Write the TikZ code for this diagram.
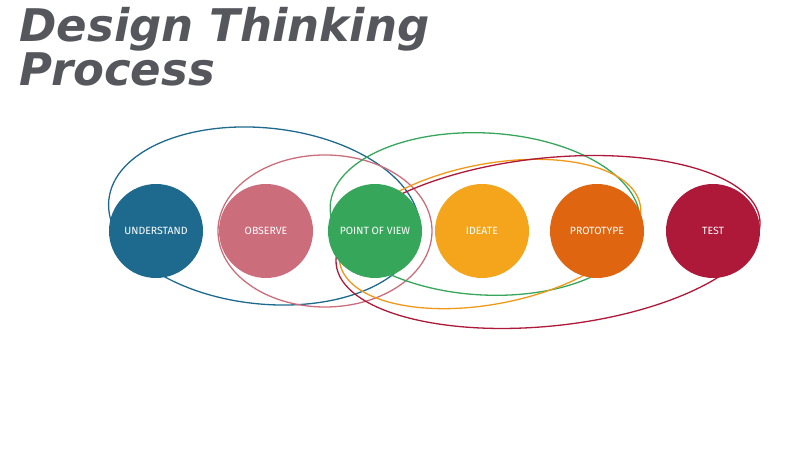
\documentclass[tikz,border=0pt]{standalone}
\usepackage{fontspec}
\setmainfont{Fira Sans}
\newfontfamily\titlefont{DejaVu Sans}
\definecolor{cblue}{HTML}{1D6A8E}
\definecolor{cpink}{HTML}{CC6D7B}
\definecolor{cgreen}{HTML}{36A65A}
\definecolor{cyel}{HTML}{F4A51C}
\definecolor{corange}{HTML}{DF6511}
\definecolor{cred}{HTML}{AE1839}
\definecolor{ctitle}{HTML}{55575C}
\begin{document}
\begin{tikzpicture}[x=1pt,y=1pt,
  stage/.style={circle,minimum size=94pt,inner sep=0pt,text=white,font=\fontsize{10.5}{11}\selectfont},
  loop/.style={line width=1.3pt}]
\useasboundingbox (0,0) rectangle (800,460);
\node[anchor=west,align=left,text=ctitle,font=\titlefont\fontsize{45}{44}\selectfont\bfseries\itshape] (title) at (16,413) {Design Thinking\\Process};
\draw[loop,cblue,rotate around={-6:(264,244)}] (264,244) ellipse [x radius=156,y radius=88];
\draw[loop,cpink] (325,229) ellipse [x radius=107,y radius=76];
\draw[loop,cgreen,rotate around={-3:(485,246)}] (485,246) ellipse [x radius=155,y radius=81];
\draw[loop,cyel!80!corange,rotate around={11:(490,226)}] (490,226) ellipse [x radius=153,y radius=70];
\draw[loop,cred,rotate around={6:(548,218)}] (548,218) ellipse [x radius=213,y radius=84];
\node[stage,fill=cblue] (u) at (156,229) {UNDERSTAND};
\node[stage,fill=cpink] (o) at (266,229) {OBSERVE};
\node[stage,fill=cgreen] (p) at (375,229) {POINT OF VIEW};
\node[stage,fill=cyel] (i) at (482,229) {IDEATE};
\node[stage,fill=corange] (t) at (597,229) {PROTOTYPE};
\node[stage,fill=cred] (s) at (713,229) {TEST};
\end{tikzpicture}
\end{document}
